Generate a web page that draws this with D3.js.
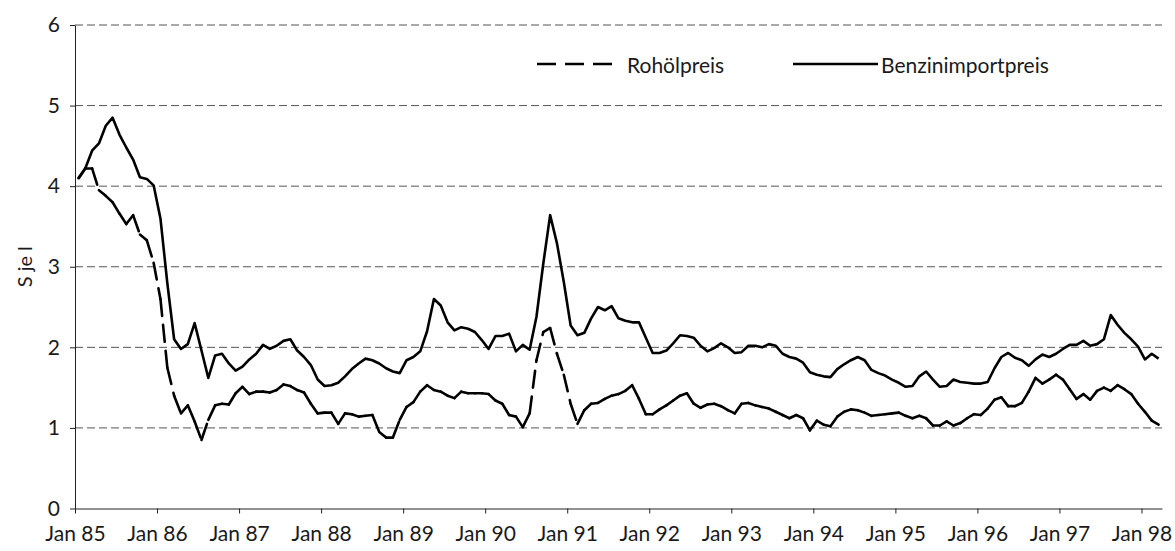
<!doctype html>
<html>
<head>
<meta charset="utf-8">
<script src="https://cdnjs.cloudflare.com/ajax/libs/d3/7.8.5/d3.min.js"></script>
<style>
  body { margin: 0; background: #fff; }
  svg { display: block; }
  text { font-family: Lato, "Open Sans", sans-serif; fill: #1a1a1a; }
  .grid line { stroke: #555; stroke-width: 1px; stroke-dasharray: 8,4; }
  .axis path, .axis line { stroke: #222; stroke-width: 1px; }
  .axis text { font-size: 21px; }
</style>
</head>
<body>
<svg id="chart" width="1175" height="551"></svg>
<script>
// monthly values, Jan 85 .. Mar 98 (S je l)
var rohoel = [
  4.10, 4.22, 4.22, 3.95, 3.88, 3.80, 3.66, 3.53, 3.64, 3.40, 3.33, 3.05,
  2.60, 1.75, 1.40, 1.18, 1.28, 1.08, 0.85, 1.10, 1.28, 1.30, 1.29, 1.43,
  1.51, 1.42, 1.45, 1.45, 1.44, 1.47, 1.54, 1.52, 1.47, 1.44, 1.30, 1.18,
  1.19, 1.19, 1.05, 1.18, 1.17, 1.14, 1.15, 1.16, 0.95, 0.88, 0.88, 1.10,
  1.26, 1.32, 1.45, 1.53, 1.47, 1.45, 1.40, 1.37, 1.45, 1.43, 1.43, 1.43,
  1.42, 1.34, 1.30, 1.16, 1.14, 1.01, 1.18, 1.84, 2.19, 2.24, 1.92, 1.66,
  1.30, 1.05, 1.22, 1.30, 1.31, 1.36, 1.40, 1.42, 1.46, 1.53, 1.36, 1.17,
  1.17, 1.23, 1.28, 1.34, 1.40, 1.43, 1.30, 1.25, 1.29, 1.30, 1.27, 1.22,
  1.18, 1.30, 1.31, 1.28, 1.26, 1.24, 1.20, 1.16, 1.12, 1.16, 1.12, 0.97,
  1.09, 1.04, 1.02, 1.14, 1.20, 1.23, 1.22, 1.19, 1.15, 1.16, 1.17, 1.18,
  1.19, 1.15, 1.12, 1.15, 1.12, 1.03, 1.03, 1.08, 1.03, 1.06, 1.12, 1.17,
  1.16, 1.24, 1.35, 1.38, 1.27, 1.27, 1.31, 1.45, 1.62, 1.55, 1.60, 1.66,
  1.60, 1.48, 1.36, 1.42, 1.35, 1.46, 1.50, 1.46, 1.53, 1.48, 1.42, 1.30,
  1.20, 1.09, 1.04
];
var benzin = [
  4.09, 4.22, 4.44, 4.53, 4.75, 4.85, 4.64, 4.48, 4.33, 4.11, 4.09, 4.01,
  3.60, 2.80, 2.10, 1.98, 2.04, 2.30, 1.96, 1.62, 1.90, 1.92, 1.80, 1.71,
  1.76, 1.85, 1.92, 2.03, 1.98, 2.02, 2.08, 2.10, 1.96, 1.88, 1.78, 1.60,
  1.52, 1.53, 1.56, 1.64, 1.73, 1.80, 1.86, 1.84, 1.80, 1.74, 1.70, 1.68,
  1.84, 1.88, 1.95, 2.20, 2.60, 2.52, 2.31, 2.21, 2.25, 2.23, 2.19, 2.09,
  1.98, 2.14, 2.14, 2.17, 1.95, 2.03, 1.97, 2.38, 3.04, 3.64, 3.29, 2.81,
  2.27, 2.15, 2.18, 2.36, 2.50, 2.46, 2.51, 2.36, 2.33, 2.31, 2.31, 2.12,
  1.93, 1.93, 1.96, 2.05, 2.15, 2.14, 2.12, 2.02, 1.95, 1.99, 2.05, 2.00,
  1.93, 1.94, 2.02, 2.02, 2.00, 2.04, 2.02, 1.92, 1.88, 1.86, 1.81, 1.69,
  1.66, 1.64, 1.63, 1.73, 1.79, 1.84, 1.88, 1.84, 1.72, 1.68, 1.65, 1.60,
  1.56, 1.51, 1.52, 1.64, 1.70, 1.60, 1.51, 1.52, 1.60, 1.57, 1.56, 1.55,
  1.55, 1.57, 1.74, 1.88, 1.93, 1.87, 1.84, 1.77, 1.85, 1.91, 1.88, 1.92,
  1.98, 2.03, 2.03, 2.08, 2.02, 2.04, 2.10, 2.40, 2.28, 2.18, 2.10, 2.01,
  1.85, 1.92, 1.86
];
var yearLabels = ["Jan 85", "Jan 86", "Jan 87", "Jan 88", "Jan 89", "Jan 90", "Jan 91",
                  "Jan 92", "Jan 93", "Jan 94", "Jan 95", "Jan 96", "Jan 97", "Jan 98"];
var yTicks = [0, 1, 2, 3, 4, 5, 6];
var seriesNames = ["Rohölpreis", "Benzinimportpreis"];

var svg = d3.select("#chart");

var x = d3.scaleLinear().domain([-0.5, benzin.length - 0.5]).range([75, 1162]);
var y = d3.scaleLinear().domain([0, 6]).range([508.5, 25]);

// horizontal dashed grid
svg.append("g").attr("class", "grid")
  .selectAll("line")
  .data(yTicks.filter(d => d > 0))
  .enter().append("line")
    .attr("x1", x.range()[0]).attr("x2", x.range()[1])
    .attr("y1", d => y(d)).attr("y2", d => y(d));

// x axis, ticks between categories at each January
svg.append("g").attr("class", "axis")
  .attr("transform", `translate(0,${y(0)})`)
  .call(d3.axisBottom(x)
    .tickValues(yearLabels.map((d, i) => i * 12 - 0.5))
    .tickFormat((d, i) => yearLabels[i])
    .tickSizeInner(5).tickSizeOuter(0).tickPadding(13))
  .call(g => g.selectAll("text").attr("fill", "#1a1a1a"));

// y axis
svg.append("g").attr("class", "axis")
  .attr("transform", `translate(${x.range()[0]},0)`)
  .call(d3.axisLeft(y).tickValues(yTicks).tickFormat(d3.format("d"))
    .tickSizeInner(5).tickSizeOuter(0).tickPadding(10))
  .call(g => g.select(".domain").attr("stroke", "#777"))
  .call(g => g.selectAll("text").attr("fill", "#1a1a1a"));

svg.append("text")
  .attr("transform", `translate(24,${y(3)}) rotate(-90)`)
  .attr("text-anchor", "middle")
  .attr("dominant-baseline", "central")
  .style("font-size", "20px")
  .text("S je l");

// Benzinimportpreis: solid
var line = d3.line().x((d, i) => x(i)).y(d => y(d));
svg.append("path")
  .datum(benzin)
  .attr("d", line)
  .attr("fill", "none")
  .attr("stroke", "#000")
  .attr("stroke-width", 2.6)
  .attr("stroke-linejoin", "round");

// Rohölpreis: dashed, pattern restarting on every monthly segment
var segLine = d3.line().x(d => x(d[0])).y(d => y(d[1]));
svg.append("g")
  .selectAll("path")
  .data(d3.pairs(rohoel.map((v, i) => [i, v])))
  .enter().append("path")
    .attr("d", segLine)
    .attr("fill", "none")
    .attr("stroke", "#000")
    .attr("stroke-width", 2.6)
    .attr("stroke-linecap", "round")
    .attr("stroke-dasharray", "17,9");

// legend
var legend = svg.append("g").attr("transform", "translate(0,64)");
legend.append("line")
  .attr("x1", 537).attr("x2", 613).attr("y1", 0).attr("y2", 0)
  .attr("stroke", "#000").attr("stroke-width", 2.6)
  .attr("stroke-dasharray", "19,9");
legend.append("text")
  .attr("x", 627).attr("y", 0).attr("dominant-baseline", "central")
  .style("font-size", "21px").text(seriesNames[0]);
legend.append("line")
  .attr("x1", 793).attr("x2", 878).attr("y1", 0).attr("y2", 0)
  .attr("stroke", "#000").attr("stroke-width", 2.6);
legend.append("text")
  .attr("x", 881).attr("y", 0).attr("dominant-baseline", "central")
  .style("font-size", "21px").text(seriesNames[1]);
</script>
</body>
</html>
